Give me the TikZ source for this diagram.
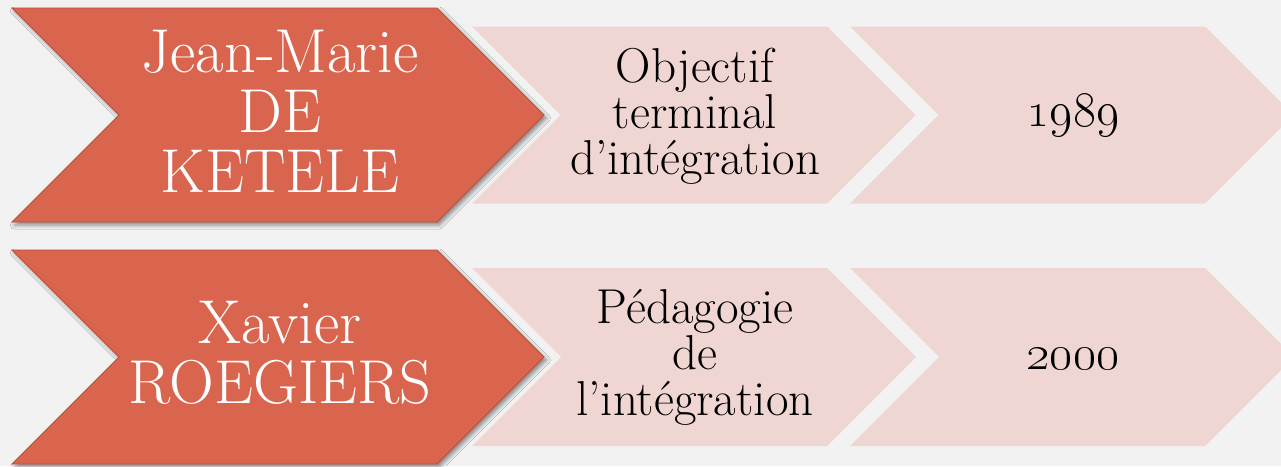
\RequirePackage{fix-cm}
\documentclass[tikz,border=0pt]{standalone}
\usepackage{tikz}
\usetikzlibrary{shadows.blur}
\definecolor{fond}{RGB}{242,242,242}
\definecolor{brique}{RGB}{217,101,78}
\definecolor{briquebord}{RGB}{188,80,60}
\definecolor{rose}{RGB}{240,214,210}

% chevron: style, gauche, droite, milieu, demi-hauteur
\newcommand{\fleche}[5]{%
  \path[#1] (#2,#4-#5) -- (#3,#4-#5) -- (#3+#5,#4) -- (#3,#4+#5) -- (#2,#4+#5) -- (#2+#5,#4) -- cycle;}

\tikzset{
  grande/.style={fill=brique, draw=briquebord, line width=0.8pt,
    blur shadow={shadow xshift=2.5pt, shadow yshift=-3pt, shadow blur radius=4pt, shadow opacity=45}},
  petite/.style={fill=rose},
  nom/.style={text=white, align=center, font=\fontsize{62}{60}\selectfont},
  idee/.style={text=black, align=center, font=\fontsize{49}{46}\selectfont},
  annee/.style={text=black, font=\fontsize{50}{50}\selectfont}
}

\begin{document}
\begin{tikzpicture}[x=1pt, y=-1pt]

    \useasboundingbox (0,0) rectangle (1281,466);
    \clip (0,0) rectangle (1281,466);
    \fill[fond] (0,0) rectangle (1281,466);

    % ligne 1
    \fleche{petite}{472}{827}{115}{88.5}
    \fleche{petite}{850}{1205}{115}{88.5}
    \fleche{grande}{12}{437}{115}{107}

    % ligne 2
    \fleche{petite}{472}{827}{357}{89}
    \fleche{petite}{850}{1205}{357}{89}
    \fleche{grande}{12}{437}{357}{107}

    \node[nom] (ketele) at (280, 111) {Jean-Marie\\DE\\KETELE};
    \node[idee] (oti) at (695, 116) {Objectif\\terminal\\d’intégration};
    \node[annee] (an1989) at (1073, 115.5) {\oldstylenums{1989}};

    \node[nom] (roegiers) at (280, 353) {Xavier\\ROEGIERS};
    \node[idee] (pi) at (695, 357) {Pédagogie\\de\\l’intégration};
    \node[annee] (an2000) at (1073, 359) {\oldstylenums{2000}};

\end{tikzpicture}
\end{document}
